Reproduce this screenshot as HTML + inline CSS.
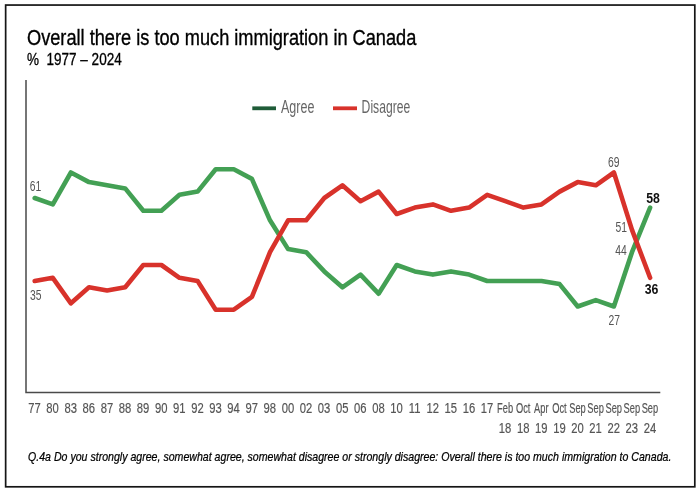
<!DOCTYPE html>
<html><head><meta charset="utf-8"><title>Overall there is too much immigration in Canada</title>
<style>
html,body{margin:0;padding:0;background:#fff;}
body{width:700px;height:489px;overflow:hidden;}
svg{display:block;font-family:"Liberation Sans",sans-serif;}
</style></head><body>
<svg width="700" height="489" viewBox="0 0 700 489">
<rect x="0" y="0" width="700" height="489" fill="#fff"/>
<rect x="5.65" y="5.05" width="689.15" height="481.75" fill="none" stroke="#151515" stroke-width="1.7"/>

<text transform="translate(27.0 44.6) scale(0.847 1)" font-size="21.5" text-anchor="start" fill="#000" font-weight="normal" font-style="normal" stroke="#000" stroke-width="0.35">Overall there is too much immigration in Canada</text>
<text transform="translate(27.0 65.0) scale(0.846 1)" font-size="16" text-anchor="start" fill="#000" font-weight="normal" font-style="normal" stroke="#000" stroke-width="0.3">%&#160; 1977 – 2024</text>
<path d="M26 80V392.5H660.3" fill="none" stroke="#4a4a4a" stroke-width="1.5"/>
<rect x="252.3" y="106.4" width="23.7" height="3.8" fill="#1f5c38"/>
<text transform="translate(281.0 113.4) scale(0.670 1)" font-size="18.7" text-anchor="start" fill="#666" font-weight="normal" font-style="normal">Agree</text>
<rect x="333" y="106.4" width="24" height="3.8" fill="#d8322b"/>
<text transform="translate(361.6 113.4) scale(0.650 1)" font-size="18.7" text-anchor="start" fill="#666" font-weight="normal" font-style="normal">Disagree</text>
<polyline points="34.7,198.0 52.8,204.4 70.9,172.5 89.0,182.1 107.1,185.3 125.2,188.4 143.3,210.8 161.4,210.8 179.5,194.8 197.6,191.6 215.7,169.3 233.8,169.3 251.9,178.9 270.0,220.3 288.1,249.1 306.2,252.2 324.3,271.4 342.4,287.3 360.5,274.6 378.6,293.7 396.7,265.0 414.8,271.4 432.9,274.6 451.0,271.4 469.1,274.6 487.2,281.0 505.3,281.0 523.4,281.0 541.5,281.0 559.6,284.1 577.7,306.5 595.8,300.1 613.9,306.5 632.0,252.2 650.1,207.6" fill="none" stroke="#43a054" stroke-width="4.6" stroke-linejoin="round" stroke-linecap="round"/>
<polyline points="34.7,281.0 52.8,277.8 70.9,303.3 89.0,287.3 107.1,290.5 125.2,287.3 143.3,265.0 161.4,265.0 179.5,277.8 197.6,281.0 215.7,309.7 233.8,309.7 251.9,296.9 270.0,252.2 288.1,220.3 306.2,220.3 324.3,198.0 342.4,185.3 360.5,201.2 378.6,191.6 396.7,214.0 414.8,207.6 432.9,204.4 451.0,210.8 469.1,207.6 487.2,194.8 505.3,201.2 523.4,207.6 541.5,204.4 559.6,191.6 577.7,182.1 595.8,185.3 613.9,172.5 632.0,229.9 650.1,277.8" fill="none" stroke="#d8322b" stroke-width="4.6" stroke-linejoin="round" stroke-linecap="round"/>
<text transform="translate(34.5 413.4) scale(0.725 1)" font-size="15.5" text-anchor="middle" fill="#555" font-weight="normal" font-style="normal" stroke="#555" stroke-width="0.2">77</text>
<text transform="translate(52.6 413.4) scale(0.725 1)" font-size="15.5" text-anchor="middle" fill="#555" font-weight="normal" font-style="normal" stroke="#555" stroke-width="0.2">80</text>
<text transform="translate(70.7 413.4) scale(0.725 1)" font-size="15.5" text-anchor="middle" fill="#555" font-weight="normal" font-style="normal" stroke="#555" stroke-width="0.2">83</text>
<text transform="translate(88.8 413.4) scale(0.725 1)" font-size="15.5" text-anchor="middle" fill="#555" font-weight="normal" font-style="normal" stroke="#555" stroke-width="0.2">86</text>
<text transform="translate(106.9 413.4) scale(0.725 1)" font-size="15.5" text-anchor="middle" fill="#555" font-weight="normal" font-style="normal" stroke="#555" stroke-width="0.2">87</text>
<text transform="translate(125.0 413.4) scale(0.725 1)" font-size="15.5" text-anchor="middle" fill="#555" font-weight="normal" font-style="normal" stroke="#555" stroke-width="0.2">88</text>
<text transform="translate(143.1 413.4) scale(0.725 1)" font-size="15.5" text-anchor="middle" fill="#555" font-weight="normal" font-style="normal" stroke="#555" stroke-width="0.2">89</text>
<text transform="translate(161.2 413.4) scale(0.725 1)" font-size="15.5" text-anchor="middle" fill="#555" font-weight="normal" font-style="normal" stroke="#555" stroke-width="0.2">90</text>
<text transform="translate(179.3 413.4) scale(0.725 1)" font-size="15.5" text-anchor="middle" fill="#555" font-weight="normal" font-style="normal" stroke="#555" stroke-width="0.2">91</text>
<text transform="translate(197.4 413.4) scale(0.725 1)" font-size="15.5" text-anchor="middle" fill="#555" font-weight="normal" font-style="normal" stroke="#555" stroke-width="0.2">92</text>
<text transform="translate(215.5 413.4) scale(0.725 1)" font-size="15.5" text-anchor="middle" fill="#555" font-weight="normal" font-style="normal" stroke="#555" stroke-width="0.2">93</text>
<text transform="translate(233.6 413.4) scale(0.725 1)" font-size="15.5" text-anchor="middle" fill="#555" font-weight="normal" font-style="normal" stroke="#555" stroke-width="0.2">94</text>
<text transform="translate(251.7 413.4) scale(0.725 1)" font-size="15.5" text-anchor="middle" fill="#555" font-weight="normal" font-style="normal" stroke="#555" stroke-width="0.2">97</text>
<text transform="translate(269.8 413.4) scale(0.725 1)" font-size="15.5" text-anchor="middle" fill="#555" font-weight="normal" font-style="normal" stroke="#555" stroke-width="0.2">98</text>
<text transform="translate(287.9 413.4) scale(0.725 1)" font-size="15.5" text-anchor="middle" fill="#555" font-weight="normal" font-style="normal" stroke="#555" stroke-width="0.2">00</text>
<text transform="translate(306.0 413.4) scale(0.725 1)" font-size="15.5" text-anchor="middle" fill="#555" font-weight="normal" font-style="normal" stroke="#555" stroke-width="0.2">02</text>
<text transform="translate(324.1 413.4) scale(0.725 1)" font-size="15.5" text-anchor="middle" fill="#555" font-weight="normal" font-style="normal" stroke="#555" stroke-width="0.2">03</text>
<text transform="translate(342.2 413.4) scale(0.725 1)" font-size="15.5" text-anchor="middle" fill="#555" font-weight="normal" font-style="normal" stroke="#555" stroke-width="0.2">05</text>
<text transform="translate(360.3 413.4) scale(0.725 1)" font-size="15.5" text-anchor="middle" fill="#555" font-weight="normal" font-style="normal" stroke="#555" stroke-width="0.2">06</text>
<text transform="translate(378.4 413.4) scale(0.725 1)" font-size="15.5" text-anchor="middle" fill="#555" font-weight="normal" font-style="normal" stroke="#555" stroke-width="0.2">08</text>
<text transform="translate(396.5 413.4) scale(0.725 1)" font-size="15.5" text-anchor="middle" fill="#555" font-weight="normal" font-style="normal" stroke="#555" stroke-width="0.2">10</text>
<text transform="translate(414.6 413.4) scale(0.725 1)" font-size="15.5" text-anchor="middle" fill="#555" font-weight="normal" font-style="normal" stroke="#555" stroke-width="0.2">11</text>
<text transform="translate(432.7 413.4) scale(0.725 1)" font-size="15.5" text-anchor="middle" fill="#555" font-weight="normal" font-style="normal" stroke="#555" stroke-width="0.2">12</text>
<text transform="translate(450.8 413.4) scale(0.725 1)" font-size="15.5" text-anchor="middle" fill="#555" font-weight="normal" font-style="normal" stroke="#555" stroke-width="0.2">15</text>
<text transform="translate(468.9 413.4) scale(0.725 1)" font-size="15.5" text-anchor="middle" fill="#555" font-weight="normal" font-style="normal" stroke="#555" stroke-width="0.2">16</text>
<text transform="translate(487.0 413.4) scale(0.725 1)" font-size="15.5" text-anchor="middle" fill="#555" font-weight="normal" font-style="normal" stroke="#555" stroke-width="0.2">17</text>
<text transform="translate(505.1 413.4) scale(0.600 1)" font-size="15.5" text-anchor="middle" fill="#555" font-weight="normal" font-style="normal" stroke="#555" stroke-width="0.2">Feb</text>
<text transform="translate(505.1 433.0) scale(0.725 1)" font-size="15.5" text-anchor="middle" fill="#555" font-weight="normal" font-style="normal" stroke="#555" stroke-width="0.2">18</text>
<text transform="translate(523.2 413.4) scale(0.600 1)" font-size="15.5" text-anchor="middle" fill="#555" font-weight="normal" font-style="normal" stroke="#555" stroke-width="0.2">Oct</text>
<text transform="translate(523.2 433.0) scale(0.725 1)" font-size="15.5" text-anchor="middle" fill="#555" font-weight="normal" font-style="normal" stroke="#555" stroke-width="0.2">18</text>
<text transform="translate(541.3 413.4) scale(0.600 1)" font-size="15.5" text-anchor="middle" fill="#555" font-weight="normal" font-style="normal" stroke="#555" stroke-width="0.2">Apr</text>
<text transform="translate(541.3 433.0) scale(0.725 1)" font-size="15.5" text-anchor="middle" fill="#555" font-weight="normal" font-style="normal" stroke="#555" stroke-width="0.2">19</text>
<text transform="translate(559.4 413.4) scale(0.600 1)" font-size="15.5" text-anchor="middle" fill="#555" font-weight="normal" font-style="normal" stroke="#555" stroke-width="0.2">Oct</text>
<text transform="translate(559.4 433.0) scale(0.725 1)" font-size="15.5" text-anchor="middle" fill="#555" font-weight="normal" font-style="normal" stroke="#555" stroke-width="0.2">19</text>
<text transform="translate(577.5 413.4) scale(0.600 1)" font-size="15.5" text-anchor="middle" fill="#555" font-weight="normal" font-style="normal" stroke="#555" stroke-width="0.2">Sep</text>
<text transform="translate(577.5 433.0) scale(0.725 1)" font-size="15.5" text-anchor="middle" fill="#555" font-weight="normal" font-style="normal" stroke="#555" stroke-width="0.2">20</text>
<text transform="translate(595.6 413.4) scale(0.600 1)" font-size="15.5" text-anchor="middle" fill="#555" font-weight="normal" font-style="normal" stroke="#555" stroke-width="0.2">Sep</text>
<text transform="translate(595.6 433.0) scale(0.725 1)" font-size="15.5" text-anchor="middle" fill="#555" font-weight="normal" font-style="normal" stroke="#555" stroke-width="0.2">21</text>
<text transform="translate(613.7 413.4) scale(0.600 1)" font-size="15.5" text-anchor="middle" fill="#555" font-weight="normal" font-style="normal" stroke="#555" stroke-width="0.2">Sep</text>
<text transform="translate(613.7 433.0) scale(0.725 1)" font-size="15.5" text-anchor="middle" fill="#555" font-weight="normal" font-style="normal" stroke="#555" stroke-width="0.2">22</text>
<text transform="translate(631.8 413.4) scale(0.600 1)" font-size="15.5" text-anchor="middle" fill="#555" font-weight="normal" font-style="normal" stroke="#555" stroke-width="0.2">Sep</text>
<text transform="translate(631.8 433.0) scale(0.725 1)" font-size="15.5" text-anchor="middle" fill="#555" font-weight="normal" font-style="normal" stroke="#555" stroke-width="0.2">23</text>
<text transform="translate(649.9 413.4) scale(0.600 1)" font-size="15.5" text-anchor="middle" fill="#555" font-weight="normal" font-style="normal" stroke="#555" stroke-width="0.2">Sep</text>
<text transform="translate(649.9 433.0) scale(0.725 1)" font-size="15.5" text-anchor="middle" fill="#555" font-weight="normal" font-style="normal" stroke="#555" stroke-width="0.2">24</text>
<text transform="translate(35.5 191.2) scale(0.690 1)" font-size="15" text-anchor="middle" fill="#555" font-weight="normal" font-style="normal">61</text>
<text transform="translate(35.7 300.0) scale(0.690 1)" font-size="15" text-anchor="middle" fill="#555" font-weight="normal" font-style="normal">35</text>
<text transform="translate(613.7 166.5) scale(0.690 1)" font-size="15" text-anchor="middle" fill="#555" font-weight="normal" font-style="normal">69</text>
<text transform="translate(621.3 232.0) scale(0.690 1)" font-size="15" text-anchor="middle" fill="#555" font-weight="normal" font-style="normal">51</text>
<text transform="translate(621.0 255.1) scale(0.690 1)" font-size="15" text-anchor="middle" fill="#555" font-weight="normal" font-style="normal">44</text>
<text transform="translate(614.2 325.0) scale(0.690 1)" font-size="15" text-anchor="middle" fill="#555" font-weight="normal" font-style="normal">27</text>
<text transform="translate(653.0 203.1) scale(0.820 1)" font-size="15" text-anchor="middle" fill="#111" font-weight="bold" font-style="normal">58</text>
<text transform="translate(651.5 294.2) scale(0.820 1)" font-size="15" text-anchor="middle" fill="#111" font-weight="bold" font-style="normal">36</text>
<text transform="translate(28.0 460.8) scale(0.848 1)" font-size="12.5" text-anchor="start" fill="#000" font-weight="normal" font-style="italic" stroke="#000" stroke-width="0.25">Q.4a Do you strongly agree, somewhat agree, somewhat disagree or strongly disagree: Overall there is too much immigration to Canada.</text>
</svg></body></html>
